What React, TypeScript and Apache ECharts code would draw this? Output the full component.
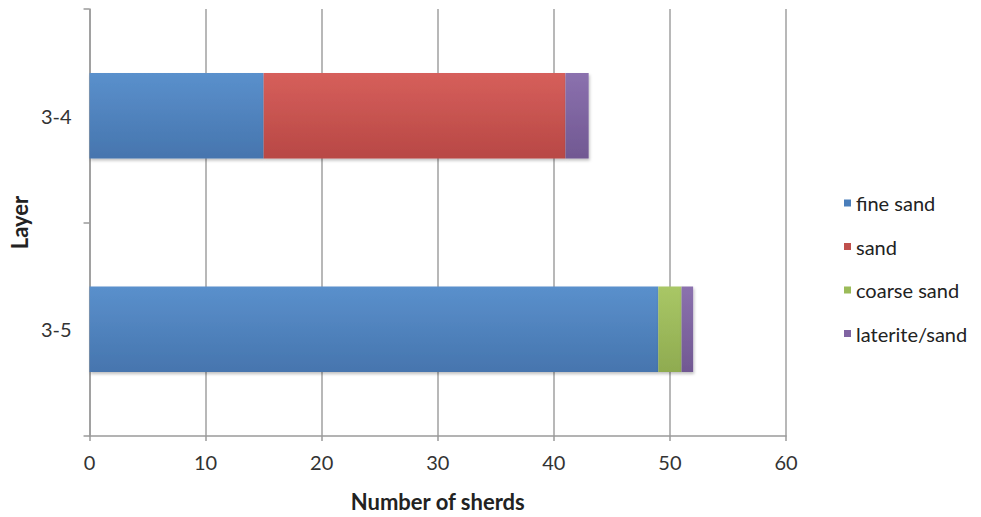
import React, { useEffect, useRef } from "react";
import * as echarts from "echarts";

const categories = ["3-5", "3-4"];
const fineSand = [49, 15];
const sand = [0, 26];
const coarseSand = [2, 0];
const lateriteSand = [1, 2];
const seriesNames = ["fine sand", "sand", "coarse sand", "laterite/sand"];

const FONT = "Lato, 'Open Sans', sans-serif";

function grad(top: string, bottom: string) {
  return new echarts.graphic.LinearGradient(0, 0, 0, 1, [
    { offset: 0, color: top },
    { offset: 1, color: bottom },
  ]);
}

export default function App() {
  const ref = useRef<HTMLDivElement>(null);
  useEffect(() => {
    if (!ref.current) return;
    const chart = echarts.init(ref.current, null, { renderer: "svg" });
    const colors = [
      ["#5a90cc", "#4675ae"],
      ["#d65f5b", "#b84845"],
      ["#a9c766", "#8fab50"],
      ["#8b71ae", "#715892"],
    ];
    const legendColors = ["#4a7ebb", "#c0504d", "#9bbb59", "#8064a2"];
    const datas = [fineSand, sand, coarseSand, lateriteSand];
    chart.setOption({
      animation: false,
      grid: { left: 89, right: 195, top: 9, bottom: 75, containLabel: false },
      legend: {
        orient: "vertical",
        left: 839,
        top: 188,
        itemWidth: 7,
        itemHeight: 7,
        itemGap: 23.5,
        icon: "rect",
        textStyle: { fontFamily: FONT, fontSize: 20, color: "#222" },
        data: seriesNames.map((n, i) => ({ name: n, itemStyle: { color: legendColors[i] } })),
      },
      xAxis: {
        type: "value",
        min: 0,
        max: 60,
        interval: 10,
        name: "Number of sherds",
        nameLocation: "middle",
        nameGap: 54,
        nameTextStyle: { fontFamily: FONT, fontSize: 22, fontWeight: "bold", color: "#222" },
        axisLine: { show: true, lineStyle: { color: "#9a9a9a", width: 1.5 } },
        axisTick: { show: true, length: 5, lineStyle: { color: "#9a9a9a", width: 1.5 } },
        axisLabel: { fontFamily: FONT, fontSize: 20, color: "#333", margin: 16 },
        splitLine: { show: true, lineStyle: { color: "#a0a0a0", width: 1.5 } },
      },
      yAxis: {
        type: "category",
        data: categories,
        name: "Layer",
        nameLocation: "middle",
        nameGap: 59,
        nameRotate: 90,
        nameTextStyle: { fontFamily: FONT, fontSize: 22, fontWeight: "bold", color: "#222" },
        axisLine: { show: true, lineStyle: { color: "#9a9a9a", width: 1.5 } },
        axisTick: { show: true, length: 6, lineStyle: { color: "#9a9a9a", width: 1.5 } },
        axisLabel: { fontFamily: FONT, fontSize: 20, color: "#333", margin: 18 },
      },
      series: datas.map((d, i) => ({
        name: seriesNames[i],
        type: "bar",
        stack: "total",
        barWidth: "40%",
        data: d,
        itemStyle: {
          color: grad(colors[i][0], colors[i][1]),
          shadowColor: "rgba(0,0,0,0.25)",
          shadowBlur: 3,
          shadowOffsetX: 1,
          shadowOffsetY: 2,
        },
      })),
    });
    return () => chart.dispose();
  }, []);
  return (
    <div
      ref={ref}
      style={{ position: "fixed", left: 0, top: 0, width: 981, height: 517, background: "#fff" }}
    />
  );
}
